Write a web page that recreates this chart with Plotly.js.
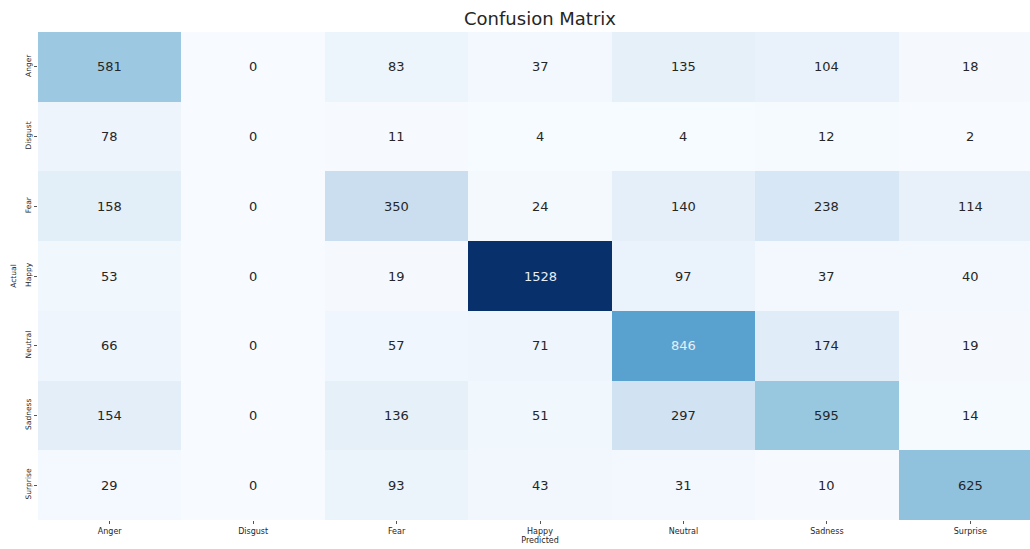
<!DOCTYPE html>
<html>
<head>
<meta charset="utf-8">
<script src="https://cdn.plot.ly/plotly-3.0.1.min.js"></script>
<style>html,body{margin:0;padding:0;background:#fff;overflow:hidden;width:1030px;height:549px;}#chart{width:1042px;height:549px;}</style>
</head>
<body>
<div id="chart"></div>
<script>
const labels = ["Anger", "Disgust", "Fear", "Happy", "Neutral", "Sadness", "Surprise"];
const rowAnger    = [581, 0, 83, 37, 135, 104, 18];
const rowDisgust  = [78, 0, 11, 4, 4, 12, 2];
const rowFear     = [158, 0, 350, 24, 140, 238, 114];
const rowHappy    = [53, 0, 19, 1528, 97, 37, 40];
const rowNeutral  = [66, 0, 57, 71, 846, 174, 19];
const rowSadness  = [154, 0, 136, 51, 297, 595, 14];
const rowSurprise = [29, 0, 93, 43, 31, 10, 625];
const z = [rowAnger, rowDisgust, rowFear, rowHappy, rowNeutral, rowSadness, rowSurprise];

const blues = [
  [0.0, "#f7fbff"], [0.125, "#deebf7"], [0.25, "#c6dbef"], [0.375, "#9ecae1"],
  [0.5, "#6baed6"], [0.625, "#4292c6"], [0.75, "#2171b5"], [0.875, "#08519c"], [1.0, "#08306b"]
];
let zmax = 0;
z.forEach(r => r.forEach(v => { if (v > zmax) zmax = v; }));

const annotations = [];
z.forEach((row, i) => {
  row.forEach((v, j) => {
    annotations.push({
      x: labels[j], y: labels[i], xref: "x", yref: "y",
      text: String(v), showarrow: false,
      font: {family: "DejaVu Sans", size: 13, color: v / zmax > 0.5 ? "#e8eef6" : "#262626"}
    });
  });
});

const data = [{
  type: "heatmap", x: labels, y: labels, z: z,
  colorscale: blues, zmin: 0, zmax: zmax, showscale: false,
  hoverinfo: "none"
}];

const layout = {
  width: 1042, height: 549,
  margin: {l: 38, r: 0, t: 32, b: 29},
  paper_bgcolor: "#ffffff", plot_bgcolor: "#ffffff",
  font: {family: "DejaVu Sans", color: "#262626"},
  title: {text: "Confusion Matrix", xref: "paper", x: 0.5, xanchor: "center",
          yref: "container", y: 0.966, yanchor: "middle",
          font: {family: "DejaVu Sans", size: 18, color: "#262626"}},
  xaxis: {
    type: "category", showgrid: false, zeroline: false, showline: false,
    ticks: "outside", ticklen: 3, tickcolor: "#555", tickwidth: 1,
    tickfont: {size: 8, color: "#262626"},
    title: {text: "Predicted", font: {size: 8, color: "#262626"}, standoff: 0}
  },
  yaxis: {
    type: "category", autorange: "reversed", showgrid: false, zeroline: false, showline: false,
    ticks: "outside", ticklen: 3, tickcolor: "#555", tickwidth: 1, tickangle: -90,
    tickfont: {size: 7.5, color: "#262626"},
    title: {text: "Actual", font: {size: 7.5, color: "#262626"}, standoff: 6}
  },
  annotations: annotations
};

Plotly.newPlot("chart", data, layout, {displayModeBar: false, staticPlot: true});
</script>
</body>
</html>
